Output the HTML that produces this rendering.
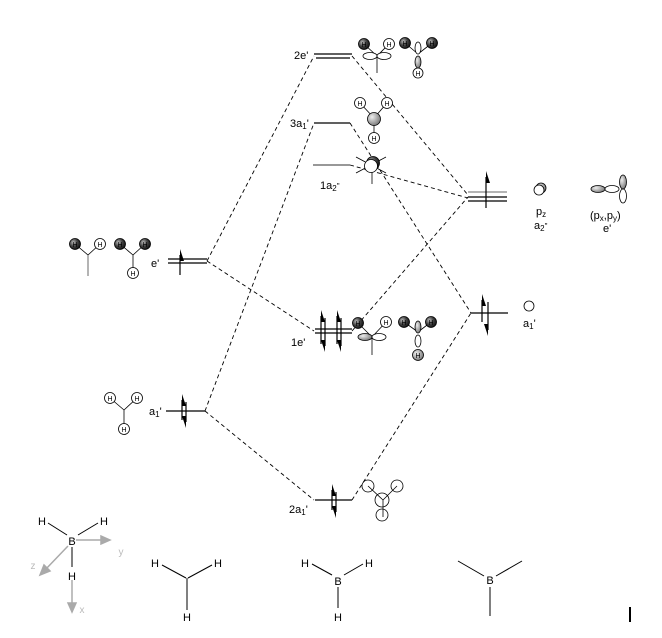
<!DOCTYPE html>
<html><head><meta charset="utf-8"><style>
html,body{margin:0;padding:0;background:#fff;}
svg{display:block;font-family:"Liberation Sans",sans-serif;}
</style></head><body>
<svg width="662" height="638" viewBox="0 0 662 638" xmlns="http://www.w3.org/2000/svg">
<defs>
<radialGradient id="dk" cx="0.35" cy="0.35" r="0.7"><stop offset="0" stop-color="#bbb"/><stop offset="0.5" stop-color="#444"/><stop offset="1" stop-color="#111"/></radialGradient>
<radialGradient id="gr" cx="0.35" cy="0.35" r="0.7"><stop offset="0" stop-color="#eee"/><stop offset="1" stop-color="#777"/></radialGradient>
</defs>
<g stroke="#000" stroke-width="0.9" stroke-dasharray="4,3" fill="none">
<line x1="207" y1="261" x2="314" y2="56"/>
<line x1="207" y1="261" x2="314" y2="331"/>
<line x1="205" y1="411" x2="314" y2="123"/>
<line x1="205" y1="411" x2="314" y2="500"/>
<line x1="352" y1="56" x2="468" y2="195"/>
<line x1="352" y1="331" x2="468" y2="197"/>
<line x1="350" y1="165" x2="468" y2="198"/>
<line x1="350" y1="123" x2="471" y2="313"/>
<line x1="352" y1="500" x2="471" y2="313"/>
</g>
<g stroke="#000" stroke-width="1.2" fill="none">
<line x1="168" y1="259" x2="207" y2="259"/><line x1="168" y1="263" x2="207" y2="263"/>
<line x1="180" y1="255" x2="180" y2="275"/>
<line x1="166" y1="411" x2="205" y2="411"/>
<line x1="182" y1="400" x2="182" y2="420"/><line x1="186" y1="402" x2="186" y2="422"/>
<line x1="314" y1="54" x2="352" y2="54"/><line x1="316" y1="58" x2="350" y2="58"/>
<line x1="314" y1="123" x2="350" y2="123"/>
<line x1="313" y1="165" x2="350" y2="165" stroke="#777" stroke-width="1.6"/>
<line x1="315" y1="329" x2="352" y2="329"/><line x1="315" y1="333" x2="352" y2="333"/>
<line x1="321" y1="316" x2="321" y2="344"/><line x1="325" y1="318" x2="325" y2="346"/>
<line x1="337" y1="316" x2="337" y2="344"/><line x1="341" y1="318" x2="341" y2="346"/>
<line x1="315" y1="500" x2="352" y2="500"/>
<line x1="332" y1="490" x2="332" y2="510"/><line x1="336" y1="492" x2="336" y2="512"/>
<line x1="468" y1="192" x2="507" y2="192" stroke="#888"/><line x1="468" y1="197" x2="507" y2="197"/><line x1="468" y1="201" x2="507" y2="201"/>
<line x1="486" y1="177" x2="486" y2="208"/>
<line x1="471" y1="313" x2="508" y2="313"/>
<line x1="482" y1="300" x2="482" y2="322"/><line x1="488" y1="302" x2="488" y2="330"/>
</g>
<g fill="#000">
<polygon points="180,249 184,261 180,261"/>
<polygon points="182,394 186,406 182,406"/>
<polygon points="186,428 182,416 186,416"/>
<polygon points="321,310 325,322 321,322"/><polygon points="325,352 321,340 325,340"/>
<polygon points="337,310 341,322 337,322"/><polygon points="341,352 337,340 341,340"/>
<polygon points="332,484 336,496 332,496"/><polygon points="336,518 332,506 336,506"/>
<polygon points="486,171 490,183 486,183"/>
<polygon points="482,294 486,306 482,306"/><polygon points="488,336 484,324 488,324"/>
</g>
<g font-size="11" fill="#000">
<text x="151" y="267">e'</text>
<text x="149" y="415">a<tspan font-size="8" dy="2">1</tspan><tspan dy="-2">'</tspan></text>
<text x="294" y="59">2e'</text>
<text x="290" y="127">3a<tspan font-size="8" dy="2">1</tspan><tspan dy="-2">'</tspan></text>
<text x="320" y="189">1a<tspan font-size="8" dy="2">2</tspan><tspan dy="-2" font-size="8">"</tspan></text>
<text x="291" y="346">1e'</text>
<text x="289" y="513">2a<tspan font-size="8" dy="2">1</tspan><tspan dy="-2">'</tspan></text>
<text x="523" y="327">a<tspan font-size="8" dy="2">1</tspan><tspan dy="-2">'</tspan></text>
<text x="536" y="215">p<tspan font-size="8" dy="2">z</tspan></text>
<text x="534" y="229">a<tspan font-size="8" dy="2">2</tspan><tspan dy="-2" font-size="8">"</tspan></text>
<text x="590" y="219">(p<tspan font-size="8" dy="2">x</tspan><tspan dy="-2">,p</tspan><tspan font-size="8" dy="2">y</tspan><tspan dy="-2">)</tspan></text>
<text x="603" y="232">e'</text>
</g>
<g stroke="#000" stroke-width="0.8" font-size="8" text-anchor="middle">
<line x1="75" y1="244" x2="88" y2="255"/><line x1="100" y1="244" x2="88" y2="255"/><line x1="88" y1="255" x2="88" y2="276" stroke="#444"/>
<circle cx="75" cy="244" r="5.5" fill="url(#dk)"/><circle cx="100" cy="244" r="5.5" fill="#fff"/>
<line x1="120" y1="244" x2="133" y2="255"/><line x1="145" y1="244" x2="133" y2="255"/><line x1="133" y1="255" x2="133" y2="272"/>
<circle cx="120" cy="244" r="5.5" fill="url(#dk)"/><circle cx="145" cy="244" r="5.5" fill="url(#dk)"/><circle cx="133" cy="273" r="5.5" fill="#fff"/>
<line x1="110" y1="398" x2="124" y2="410"/><line x1="137" y1="398" x2="124" y2="410"/><line x1="124" y1="410" x2="124" y2="428"/>
<circle cx="110" cy="398" r="5.5" fill="#fff"/><circle cx="137" cy="398" r="5.5" fill="#fff"/><circle cx="124" cy="429" r="5.5" fill="#fff"/>
<line x1="364" y1="44" x2="377" y2="56"/><line x1="389" y1="44" x2="377" y2="56"/><line x1="377" y1="56" x2="377" y2="73"/>
<ellipse cx="370" cy="56" rx="7" ry="3.5" fill="#fff"/><ellipse cx="384" cy="56" rx="7" ry="3.5" fill="#fff"/>
<circle cx="364" cy="44" r="5.5" fill="url(#dk)"/><circle cx="389" cy="44" r="5.5" fill="#fff"/>
<line x1="405" y1="43" x2="418" y2="54"/><line x1="432" y1="43" x2="418" y2="54"/>
<ellipse cx="418" cy="48" rx="3" ry="6" fill="#fff"/><ellipse cx="418" cy="62" rx="3" ry="6" fill="url(#gr)"/>
<circle cx="405" cy="43" r="5.5" fill="url(#dk)"/><circle cx="432" cy="43" r="5.5" fill="url(#dk)"/><circle cx="418" cy="73" r="5" fill="#fff"/>
<line x1="360" y1="103" x2="374" y2="118"/><line x1="387" y1="103" x2="374" y2="118"/><line x1="374" y1="118" x2="374" y2="137"/>
<circle cx="360" cy="103" r="5.5" fill="#fff"/><circle cx="387" cy="103" r="5.5" fill="#fff"/><circle cx="374" cy="138" r="5.5" fill="#fff"/>
<circle cx="374" cy="119" r="6.5" fill="url(#gr)"/>
<line x1="356" y1="157" x2="386" y2="173"/><line x1="386" y1="157" x2="356" y2="173"/><line x1="372" y1="172" x2="372" y2="184"/>
<circle cx="373" cy="163" r="6.5" fill="url(#dk)"/><circle cx="371" cy="166" r="6.5" fill="#fff"/>
<line x1="358" y1="323" x2="372" y2="337"/><line x1="386" y1="322" x2="372" y2="337"/><line x1="372" y1="337" x2="372" y2="355"/>
<ellipse cx="365" cy="337" rx="7" ry="3.5" fill="url(#gr)"/><ellipse cx="379" cy="337" rx="7" ry="3.5" fill="#fff"/>
<circle cx="358" cy="323" r="5.5" fill="url(#dk)"/><circle cx="386" cy="322" r="5.5" fill="#fff"/>
<line x1="404" y1="322" x2="418" y2="332"/><line x1="431" y1="322" x2="418" y2="332"/>
<ellipse cx="418" cy="327" rx="3" ry="6" fill="url(#gr)"/><ellipse cx="418" cy="341" rx="3" ry="6" fill="#fff"/>
<circle cx="404" cy="322" r="5.5" fill="url(#dk)"/><circle cx="431" cy="322" r="5.5" fill="url(#dk)"/><circle cx="418" cy="355" r="5.5" fill="url(#gr)"/>
<line x1="368" y1="486" x2="383" y2="500"/><line x1="397" y1="486" x2="383" y2="500"/><line x1="383" y1="500" x2="383" y2="517"/>
<circle cx="368" cy="486" r="6" fill="none"/><circle cx="397" cy="486" r="6" fill="none"/><circle cx="382" cy="500" r="7" fill="none"/><circle cx="382" cy="515" r="6" fill="none"/>
<circle cx="541" cy="188" r="5" fill="url(#gr)"/><circle cx="539" cy="190" r="5" fill="#fff"/>
<ellipse cx="598" cy="189" rx="7" ry="3.5" fill="url(#gr)"/><ellipse cx="612" cy="189" rx="7" ry="3.5" fill="#fff"/>
<ellipse cx="623" cy="182" rx="3.5" ry="7" fill="url(#gr)"/><ellipse cx="623" cy="196" rx="3.5" ry="7" fill="#fff"/>
<circle cx="529" cy="306" r="5" fill="#fff"/>
</g>
<g font-size="7" text-anchor="middle" fill="#000">
<text x="75" y="247">H</text><text x="100" y="247">H</text><text x="120" y="247">H</text><text x="145" y="247">H</text><text x="133" y="276">H</text>
<text x="110" y="401">H</text><text x="137" y="401">H</text><text x="124" y="432">H</text>
<text x="364" y="47">H</text><text x="389" y="47">H</text><text x="405" y="46">H</text><text x="432" y="46">H</text><text x="418" y="76">H</text>
<text x="360" y="106">H</text><text x="387" y="106">H</text><text x="374" y="141">H</text>
<text x="358" y="326">H</text><text x="386" y="325">H</text><text x="404" y="325">H</text><text x="431" y="325">H</text><text x="418" y="358">H</text>
</g>
<g stroke="#000" stroke-width="1" fill="none">
<line x1="48" y1="523" x2="67" y2="535"/><line x1="98" y1="523" x2="78" y2="535"/>
<line x1="72" y1="547" x2="72" y2="567"/>
<line x1="162" y1="565" x2="186" y2="578"/><line x1="212" y1="565" x2="188" y2="578"/><line x1="187" y1="578" x2="187" y2="610"/>
<line x1="312" y1="564" x2="332" y2="575"/><line x1="363" y1="564" x2="344" y2="575"/><line x1="338" y1="587" x2="338" y2="608"/>
<line x1="458" y1="561" x2="484" y2="576"/><line x1="522" y1="561" x2="496" y2="576"/><line x1="490" y1="587" x2="490" y2="616"/>
<line x1="630" y1="607" x2="630" y2="622" stroke-width="2"/>
</g>
<g stroke="#aaa" stroke-width="1.5" fill="#aaa">
<line x1="76" y1="540" x2="104" y2="540"/><polygon points="110,540 101,536 101,544"/>
<line x1="72" y1="580" x2="72" y2="605"/><polygon points="72,612 68,603 76,603"/>
<line x1="68" y1="546" x2="45" y2="570"/><polygon points="40,575 44,565 50,571"/>
</g>
<g font-size="11" fill="#000" text-anchor="middle">
<text x="42" y="525">H</text><text x="104" y="525">H</text><text x="72" y="545">B</text><text x="72" y="580">H</text>
<text x="155" y="567">H</text><text x="218" y="567">H</text><text x="187" y="621">H</text>
<text x="305" y="567">H</text><text x="369" y="567">H</text><text x="338" y="585">B</text><text x="338" y="621">H</text>
<text x="490" y="584">B</text>
</g>
<g font-size="10" fill="#bbb" text-anchor="middle">
<text x="121" y="555">y</text><text x="33" y="569">z</text><text x="82" y="613">x</text>
</g>
</svg>
</body></html>
